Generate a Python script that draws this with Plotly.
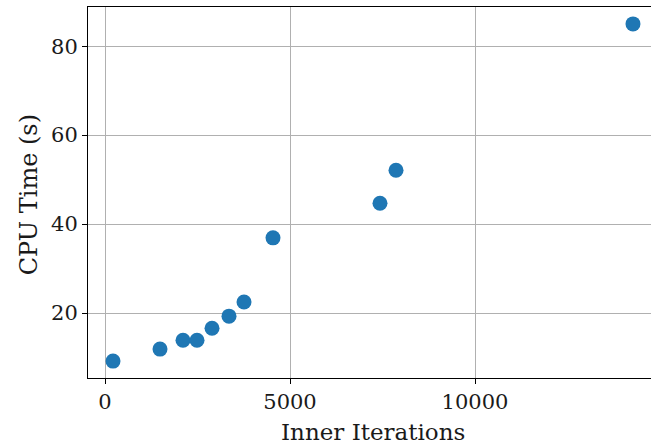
import plotly.graph_objects as go

inner_iterations = [216, 1486, 2108, 2486, 2892, 3351, 3757, 4540, 7432, 7865, 14270]
cpu_time = [9.2, 11.9, 13.9, 13.9, 16.6, 19.3, 22.5, 36.9, 44.7, 52.1, 85.0]

x_ticks = [0, 5000, 10000]
y_ticks = [20, 40, 60, 80]

x_title = "Inner Iterations"
y_title = "CPU Time (s)"

font_family = "DejaVu Serif, Liberation Serif, serif"

fig = go.Figure()
fig.add_trace(go.Scatter(
    x=inner_iterations, y=cpu_time, mode="markers",
    marker=dict(color="#1f77b4", size=15, line=dict(width=0)),
))

fig.update_layout(
    width=651, height=446,
    margin=dict(l=88, r=0, t=7, b=68),
    paper_bgcolor="white", plot_bgcolor="white",
    showlegend=False,
    font=dict(family=font_family, color="#1a1a1a", size=20),
    annotations=[
        dict(text=x_title, xref="paper", yref="paper", x=0.506, y=-0.1456,
             xanchor="center", yanchor="middle", showarrow=False,
             font=dict(size=23)),
        dict(text=y_title, xref="paper", yref="paper", x=-0.105, y=0.495,
             xanchor="center", yanchor="middle", showarrow=False,
             textangle=-90, font=dict(size=24)),
    ],
)
fig.update_xaxes(
    range=[-460, 14757], automargin=False,
    tickvals=x_ticks, ticktext=[str(v) for v in x_ticks],
    showgrid=True, gridcolor="#b0b0b0", gridwidth=1,
    showline=True, linecolor="black", linewidth=1, mirror=True,
    ticks="outside", ticklen=5, tickcolor="black",
    tickfont=dict(size=21),
    zeroline=False,
)
fig.update_yaxes(
    range=[5.4, 88.8], automargin=False,
    tickvals=y_ticks, ticktext=[str(v) for v in y_ticks],
    showgrid=True, gridcolor="#b0b0b0", gridwidth=1,
    showline=True, linecolor="black", linewidth=1, mirror=False,
    ticks="outside", ticklen=5, tickcolor="black",
    tickfont=dict(size=21),
    zeroline=False,
)

fig.write_html(
    "out.html",
    config={"displayModeBar": False},
    post_script="document.body.style.margin='0';document.body.style.padding='0';document.body.style.overflow='hidden';",
)
